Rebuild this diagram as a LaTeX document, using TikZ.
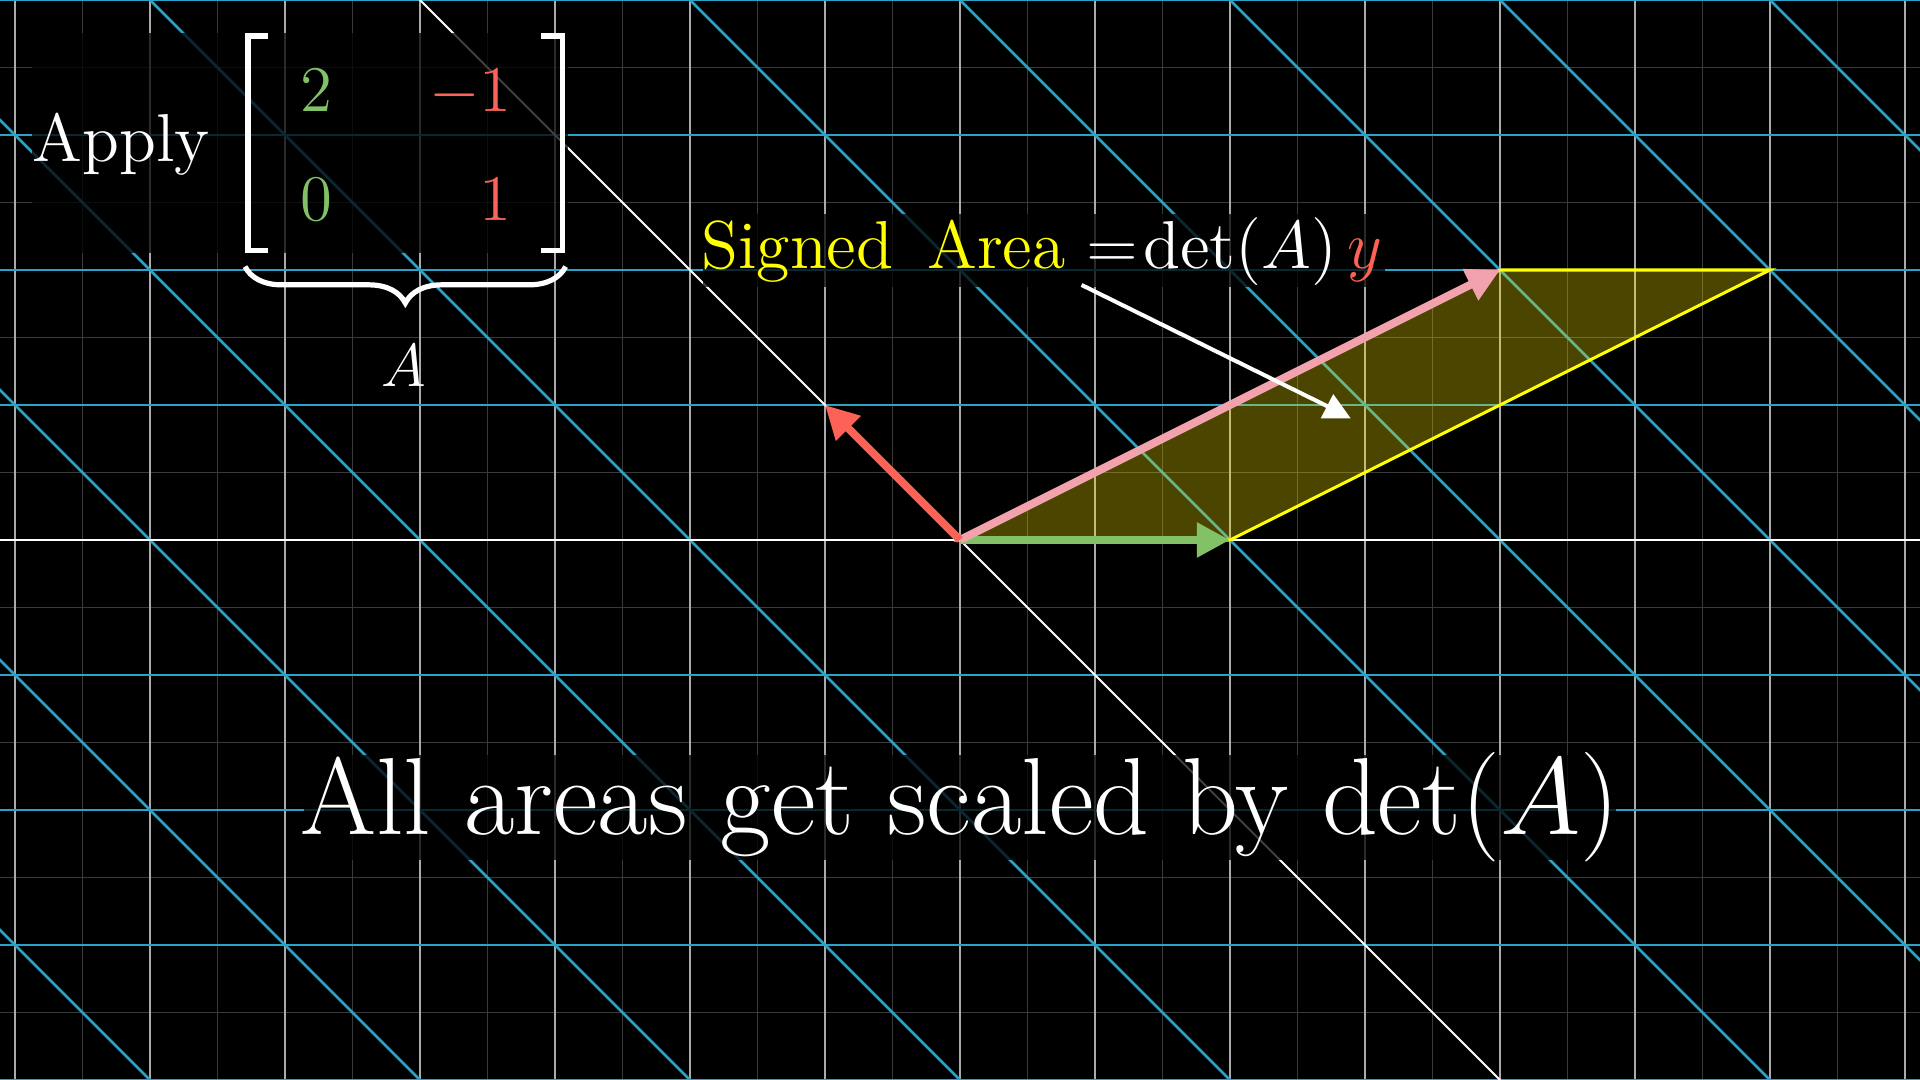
\RequirePackage{fix-cm}
\documentclass[tikz,border=0pt]{standalone}
\usetikzlibrary{arrows.meta,decorations.pathreplacing}
\definecolor{gridblue}{HTML}{29A3C6}
\definecolor{vgreen}{HTML}{83C167}
\definecolor{vred}{HTML}{FC6255}
\definecolor{vpink}{HTML}{F2A2AC}
\definecolor{ayellow}{HTML}{FFFF00}
\definecolor{fillyel}{HTML}{FAE600}
\definecolor{faintgrey}{HTML}{3A3A3A}
\definecolor{unitgrey}{HTML}{AAAAAA}
\begin{document}
\begin{tikzpicture}[x=1cm,y=1cm,
  faintline/.style={faintgrey, line width=0.4pt},
  unitline/.style={unitgrey, line width=0.45pt},
  blueline/.style={gridblue, line width=0.55pt},
  axisline/.style={white, line width=0.55pt},
  vec/.style={line width=1.7pt, -{Triangle[length=0.245cm,width=0.245cm]}},
  dimrect/.style={fill=black, fill opacity=0.75},
  lbl/.style={text=white, inner sep=0pt, outer sep=0pt},
]
\fill[black] (-7.1111,-4) rectangle (7.1111,4);
\useasboundingbox (-7.1111,-4) rectangle (7.1111,4);
% grid
\begin{scope}
\clip (-7.1111,-4) rectangle (7.1111,4);
\foreach \i in {-7.5,-6.5,...,7.5} \draw[faintline] (\i,-4.2) -- (\i,4.2);
\foreach \j in {-4.5,-3.5,...,4.5} \draw[faintline] (-7.3,\j) -- (7.3,\j);
\foreach \i in {-7,...,7} \draw[unitline] (\i,-4.2) -- (\i,4.2);
\foreach \j in {-4,-3,-2,-1,1,2,3,4} \draw[blueline] (-7.3,\j) -- (7.3,\j);
\foreach \k in {-12,-10,-8,-6,-4,-2,2,4,6,8,10,12} \draw[blueline] (\k+4.5,-4.5) -- (\k-4.5,4.5);
\draw[axisline] (-7.3,0) -- (7.3,0);
\draw[white, line width=0.4pt] (4.5,-4.5) -- (-4.5,4.5);
\end{scope}
% parallelogram and vectors
\coordinate (O) at (0,0);
\coordinate (I) at (2,0);
\coordinate (P) at (4,2);
\coordinate (Q) at (6,2);
\coordinate (J) at (-1,1);
\fill[fillyel, fill opacity=0.3] (O) -- (I) -- (Q) -- (P) -- cycle;
\draw[ayellow, line width=0.65pt] (O) -- (I) -- (Q) -- (P) -- cycle;
\draw[vec, vgreen] (O) -- (I);
\draw[vec, vpink] (O) -- (P);
\draw[vec, vred] (O) -- (J);
% matrix block
\fill[dimrect] (-6.874,2.124) rectangle (-2.9,3.756);
\node[lbl, anchor=base west, font=\fontsize{14.3}{16}\selectfont] (apply) at (-6.87,2.802) {Apply};
\draw[white, line width=1.2pt, line join=miter] (-5.126,3.733) -- (-5.275,3.733) -- (-5.275,2.144) -- (-5.126,2.144);
\draw[white, line width=1.2pt, line join=miter] (-3.100,3.733) -- (-2.945,3.733) -- (-2.945,2.144) -- (-3.100,2.144);
\node[lbl, text=vgreen, anchor=base, font=\fontsize{13.7}{16}\selectfont] (m11) at (-4.766,3.173) {2};
\node[lbl, text=vred, anchor=base east, font=\fontsize{13.7}{16}\selectfont] (m12) at (-3.32,3.173) {$-1$};
\node[lbl, text=vgreen, anchor=base, font=\fontsize{13.7}{16}\selectfont] (m21) at (-4.766,2.370) {0};
\node[lbl, text=vred, anchor=base east, font=\fontsize{13.7}{16}\selectfont] (m22) at (-3.32,2.370) {1};
\coordinate (bl) at (-5.296,2.025);
\coordinate (br) at (-2.921,2.025);
\draw[white, line width=1.1pt, decorate, decoration={brace, mirror, amplitude=0.27cm}] (bl) -- (br);
\node[lbl, anchor=base, font=\fontsize{12.8}{15}\selectfont] (albl) at (-4.12,1.136) {$A$};
% signed area label
\fill[dimrect] (-1.904,1.874) rectangle (3.148,2.415);
\node[lbl, text=ayellow, anchor=base west, font=\fontsize{14.3}{16}\selectfont] (sa) at (-1.915,2.012) {Signed\hspace{0.5em}Area};
\node[lbl, anchor=base west, font=\fontsize{14.3}{16}\selectfont] (eq) at (0.94,2.012) {$=$};
\node[lbl, anchor=base west, font=\fontsize{14.3}{16}\selectfont] (det) at (1.36,2.012) {$\det(A)$};
\node[lbl, text=vred, anchor=base west, font=\fontsize{14.3}{16}\selectfont] (yv) at (2.87,2.012) {$y$};
% main caption
\fill[dimrect] (-4.862,-2.370) rectangle (4.859,-1.593);
\node[lbl, anchor=base, font=\fontsize{23.1}{26}\selectfont] (main) at (0,-2.185) {All areas get scaled by $\det(A)$};
% pointer arrow
\coordinate (as) at (0.901,1.889);
\coordinate (ae) at (2.778,0.963);
\draw[white, line width=0.85pt] (as) -- (ae);
\fill[white] (2.765,1.081) -- (2.672,0.901) -- (2.894,0.901) -- cycle;
\end{tikzpicture}
\end{document}
